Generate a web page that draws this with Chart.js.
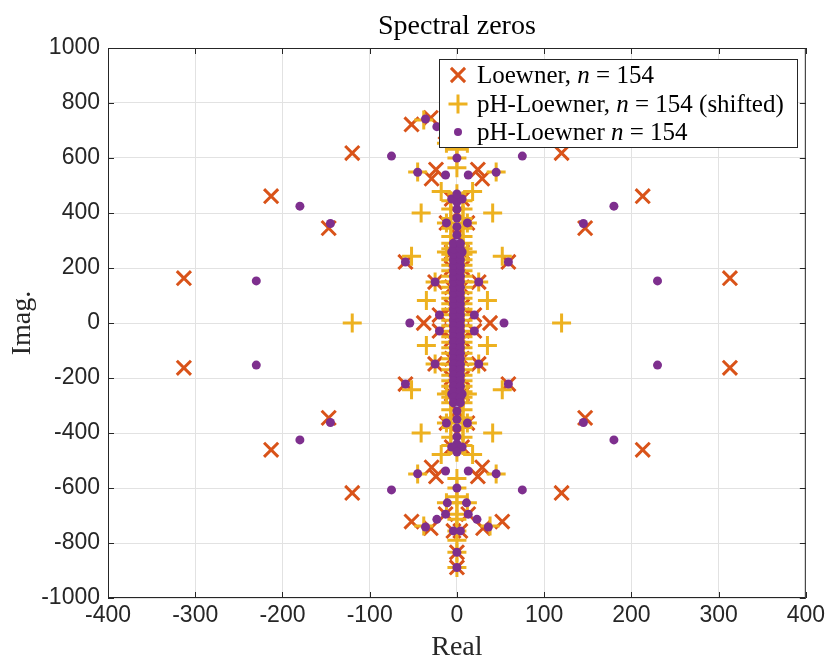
<!DOCTYPE html>
<html>
<head>
<meta charset="utf-8">
<script src="https://cdn.jsdelivr.net/npm/chart.js@4.4.1/dist/chart.umd.min.js"></script>
<style>
  html, body { margin: 0; padding: 0; background: #fff; }
  #wrap { width: 829px; height: 665px; }
</style>
</head>
<body>
<div id="wrap"><canvas id="grafico" width="829" height="665"></canvas></div>
<script>
// Zeros espectrais: [parte real, parte imaginária]
const loewnerZeros = [
  [-313, 163], [-313, -163], [313, 163], [313, -163],
  [-213, 461], [-213, -461], [213, 461], [213, -461],
  [-147, 345], [-147, -345], [147, 345], [147, -345],
  [-120, 618], [-120, -618], [120, 618], [120, -618],
  [-52, 722], [-52, -722], [52, 722], [52, -722],
  [-30, 746], [-30, -746], [30, 746], [30, -746],
  [-29, 525], [-29, -525], [29, 525], [29, -525],
  [-24, 558], [-24, -558], [24, 558], [24, -558],
  [-38, 0], [38, 0],
  [-20, 29], [-20, -29], [20, 29], [20, -29],
  [-25, 149], [-25, -149], [25, 149], [25, -149],
  [-59, 222], [-59, -222], [59, 222], [59, -222],
  [-12, 364], [-12, -364], [12, 364], [12, -364],
  [-6, 451], [-6, -451], [6, 451], [6, -451],
  [-13, 695], [-13, -695], [13, 695], [13, -695],
  [-4, 756], [-4, -756], [4, 756], [4, -756],
  [0, 834], [0, -834], [0, 889], [0, -889],
  [-6, 60], [-6, -60], [6, 60], [6, -60],
  [-6, 130], [-6, -130], [6, 130], [6, -130],
  [-6, 200], [-6, -200], [6, 200], [6, -200],
  [-6, 258], [-6, -258], [6, 258], [6, -258],
  [0, 320], [0, -320], [0, 400], [0, -400]
];

const shiftedZeros = [
  [-120, 0], [120, 0],
  [-41, 400], [-41, -400], [41, 400], [41, -400],
  [-35, 82], [-35, -82], [35, 82], [35, -82],
  [-52, 243], [-52, -243], [52, 243], [52, -243],
  [-25, 149], [-25, -149], [25, 149], [25, -149],
  [-12, 364], [-12, -364], [12, 364], [12, -364],
  [-12, 258], [-12, -258], [12, 258], [12, -258],
  [-18, 478], [-18, -478], [18, 478], [18, -478],
  [0, 470], [0, -470],
  [-45, 549], [-45, -549], [45, 549], [45, -549],
  [0, 565], [0, -565],
  [-38, 738], [-38, -738], [38, 738], [38, -738],
  [0, 600], [0, -600], [0, 632], [0, -632], [0, 654], [0, -654],
  [0, 695], [0, -695], [0, 714], [0, -714],
  [-12, 654], [-12, -654], [12, 654], [12, -654],
  [0, 756], [0, -756], [0, 790], [0, -790], [0, 834], [0, -834], [0, 889], [0, -889],
  // coluna central
  [-7, 10], [-7, 30], [-7, 50], [-7, 70], [-7, 90], [-7, 110], [-7, 130], [-7, 150],
  [-7, 170], [-7, 190], [-7, 210], [-7, 230], [-7, 250], [-7, 270], [-7, 290],
  [-7, 315], [-7, 345], [-7, 380], [-7, 415], [-7, 445],
  [-7, -10], [-7, -30], [-7, -50], [-7, -70], [-7, -90], [-7, -110], [-7, -130], [-7, -150],
  [-7, -170], [-7, -190], [-7, -210], [-7, -230], [-7, -250], [-7, -270], [-7, -290],
  [-7, -315], [-7, -345], [-7, -380], [-7, -415], [-7, -445],
  [7, 10], [7, 30], [7, 50], [7, 70], [7, 90], [7, 110], [7, 130], [7, 150],
  [7, 170], [7, 190], [7, 210], [7, 230], [7, 250], [7, 270], [7, 290],
  [7, 315], [7, 345], [7, 380], [7, 415], [7, 445],
  [7, -10], [7, -30], [7, -50], [7, -70], [7, -90], [7, -110], [7, -130], [7, -150],
  [7, -170], [7, -190], [7, -210], [7, -230], [7, -250], [7, -270], [7, -290],
  [7, -315], [7, -345], [7, -380], [7, -415], [7, -445]
];

const phZeros = [
  [-230, 153], [-230, -153], [230, 153], [230, -153],
  [-180, 425], [-180, -425], [180, 425], [180, -425],
  [-145, 362], [-145, -362], [145, 362], [145, -362],
  [-75, 607], [-75, -607], [75, 607], [75, -607],
  [-54, 0], [54, 0],
  [-20, 29], [-20, -29], [20, 29], [20, -29],
  [-25, 149], [-25, -149], [25, 149], [25, -149],
  [-59, 222], [-59, -222], [59, 222], [59, -222],
  [-12, 364], [-12, -364], [12, 364], [12, -364],
  [-6, 258], [-6, -258], [6, 258], [6, -258],
  [0, 320], [0, -320], [0, 350], [0, -350], [0, 382], [0, -382], [0, 414], [0, -414],
  [0, 440], [0, -440],
  [-6, 451], [-6, -451], [6, 451], [6, -451], [0, 469], [0, -469],
  [-13, 538], [-13, -538], [13, 538], [13, -538],
  [-45, 548], [-45, -548], [45, 548], [45, -548],
  [0, 600], [0, -600],
  [-11, 654], [-11, -654], [11, 654], [11, -654],
  [-13, 695], [-13, -695], [13, 695], [13, -695],
  [-23, 714], [-23, -714], [23, 714], [23, -714],
  [-36, 742], [-36, -742], [36, 742], [36, -742],
  [-4, 756], [-4, -756], [4, 756], [4, -756],
  [0, 834], [0, -834], [0, 889], [0, -889],
  // coluna central
  [-4, 10], [-4, 30], [-4, 50], [-4, 70], [-4, 90], [-4, 110], [-4, 130], [-4, 150],
  [-4, 170], [-4, 190], [-4, 210], [-4, 230], [-4, 250], [-4, 270], [-4, 290],
  [-4, -10], [-4, -30], [-4, -50], [-4, -70], [-4, -90], [-4, -110], [-4, -130], [-4, -150],
  [-4, -170], [-4, -190], [-4, -210], [-4, -230], [-4, -250], [-4, -270], [-4, -290],
  [4, 10], [4, 30], [4, 50], [4, 70], [4, 90], [4, 110], [4, 130], [4, 150],
  [4, 170], [4, 190], [4, 210], [4, 230], [4, 250], [4, 270], [4, 290],
  [4, -10], [4, -30], [4, -50], [4, -70], [4, -90], [4, -110], [4, -130], [4, -150],
  [4, -170], [4, -190], [4, -210], [4, -230], [4, -250], [4, -270], [4, -290]
];

const legendLabels = [
  ['Loewner, ', 'n', ' = 154'],
  ['pH-Loewner, ', 'n', ' = 154 (shifted)'],
  ['pH-Loewner ', 'n', ' = 154']
];

const chartTitle = 'Spectral zeros';

const corX = '#D95319';
const corMais = '#EDB120';
const corPonto = '#7E2F8E';

const toXY = arr => arr.map(p => ({ x: p[0], y: p[1] }));

// Caixa, marcas internas, título e legenda no estilo MATLAB
const moldura = {
  id: 'moldura',
  afterDraw(chart) {
    const { ctx, chartArea: a, scales } = chart;
    ctx.save();

    ctx.strokeStyle = '#262626';
    ctx.lineWidth = 1;
    ctx.strokeRect(a.left + 0.5, a.top + 0.5, a.right - a.left - 1, a.bottom - a.top - 1);

    const tl = 6;
    ctx.beginPath();
    scales.x.ticks.forEach(t => {
      const px = Math.round(scales.x.getPixelForValue(t.value)) + 0.5;
      ctx.moveTo(px, a.bottom); ctx.lineTo(px, a.bottom - tl);
      ctx.moveTo(px, a.top); ctx.lineTo(px, a.top + tl);
    });
    scales.y.ticks.forEach(t => {
      const py = Math.round(scales.y.getPixelForValue(t.value)) + 0.5;
      ctx.moveTo(a.left, py); ctx.lineTo(a.left + tl, py);
      ctx.moveTo(a.right, py); ctx.lineTo(a.right - tl, py);
    });
    ctx.stroke();

    // título
    ctx.fillStyle = '#000';
    ctx.font = '28px "Liberation Serif"';
    ctx.textAlign = 'center';
    ctx.textBaseline = 'alphabetic';
    ctx.fillText(chartTitle, (a.left + a.right) / 2, 34);

    // legenda
    const bx = 439.5, by = 59.5, bw = 358, bh = 88;
    ctx.fillStyle = '#fff';
    ctx.fillRect(bx, by, bw, bh);
    ctx.strokeStyle = '#262626';
    ctx.strokeRect(bx, by, bw, bh);

    const estilos = [
      { pointStyle: 'crossRot', radius: 10, borderWidth: 3, borderColor: corX, backgroundColor: corX },
      { pointStyle: 'cross', radius: 9.5, borderWidth: 3, borderColor: corMais, backgroundColor: corMais },
      { pointStyle: 'circle', radius: 4, borderWidth: 0, borderColor: corPonto, backgroundColor: corPonto }
    ];
    const linhas = [75, 104, 132];
    legendLabels.forEach((partes, i) => {
      const e = estilos[i];
      ctx.strokeStyle = e.borderColor;
      ctx.fillStyle = e.backgroundColor;
      ctx.lineWidth = e.borderWidth;
      Chart.helpers.drawPoint(ctx, { pointStyle: e.pointStyle, radius: e.radius, borderWidth: e.borderWidth, rotation: 0 }, 458, linhas[i]);

      let x = 477;
      const base = linhas[i] + 8;
      ctx.fillStyle = '#000';
      ctx.textAlign = 'left';
      partes.forEach((txt, k) => {
        ctx.font = (k === 1 ? 'italic ' : '') + '25px "Liberation Serif"';
        ctx.fillText(txt, x, base);
        x += ctx.measureText(txt).width;
      });
    });

    ctx.restore();
  }
};

const ctx = document.getElementById('grafico').getContext('2d');

new Chart(ctx, {
  type: 'scatter',
  data: {
    datasets: [
      {
        label: 'Loewner, n = 154',
        data: toXY(loewnerZeros),
        pointStyle: 'crossRot',
        pointRadius: 10,
        borderWidth: 3,
        borderColor: corX,
        backgroundColor: corX,
        order: 3
      },
      {
        label: 'pH-Loewner, n = 154 (shifted)',
        data: toXY(shiftedZeros),
        pointStyle: 'cross',
        pointRadius: 9.5,
        borderWidth: 3,
        borderColor: corMais,
        backgroundColor: corMais,
        order: 2
      },
      {
        label: 'pH-Loewner n = 154',
        data: toXY(phZeros),
        pointStyle: 'circle',
        pointRadius: 4.5,
        borderWidth: 0,
        borderColor: corPonto,
        backgroundColor: corPonto,
        order: 1
      }
    ]
  },
  options: {
    responsive: false,
    animation: false,
    events: [],
    devicePixelRatio: 1,
    layout: { padding: { top: 48, right: 22, bottom: 0, left: 0 } },
    plugins: {
      legend: { display: false },
      tooltip: { enabled: false },
      title: { display: false }
    },
    scales: {
      x: {
        type: 'linear',
        min: -400,
        max: 400,
        ticks: {
          stepSize: 100,
          autoSkip: false,
          maxRotation: 0,
          padding: 4,
          color: '#262626',
          font: { family: 'Liberation Sans', size: 23 },
          callback: v => String(v)
        },
        grid: { color: '#e2e2e2', drawTicks: false },
        border: { display: false },
        title: {
          display: true,
          text: 'Real',
          color: '#262626',
          font: { family: 'Liberation Serif', size: 28 },
          padding: { top: 0, bottom: 1 }
        },
        afterFit: s => { s.height = 67; }
      },
      y: {
        type: 'linear',
        min: -1000,
        max: 1000,
        ticks: {
          stepSize: 200,
          autoSkip: false,
          padding: 8,
          color: '#262626',
          font: { family: 'Liberation Sans', size: 23 },
          callback: v => String(v)
        },
        grid: { color: '#e2e2e2', drawTicks: false },
        border: { display: false },
        title: {
          display: true,
          text: 'Imag.',
          color: '#262626',
          font: { family: 'Liberation Serif', size: 28 },
          padding: { top: 6, bottom: 0 }
        },
        afterFit: s => { s.width = 108; }
      }
    }
  },
  plugins: [moldura]
});
</script>
</body>
</html>
